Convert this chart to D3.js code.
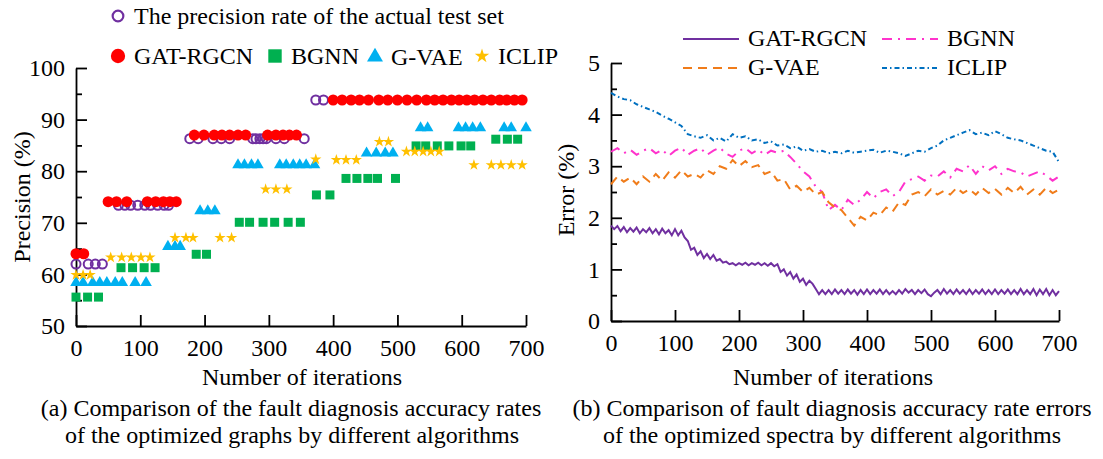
<!DOCTYPE html>
<html>
<head>
<meta charset="utf-8">
<script src="https://cdn.jsdelivr.net/npm/d3@7"></script>
<style>
  body { margin: 0; background: #fff; }
</style>
</head>
<body>
<svg id="chart" width="1103" height="459"></svg>
<script>
// ---- (a) precision vs iterations ----
const actualIter = [0, 19, 30, 41, 66, 76, 85, 96, 107, 116, 127, 137, 144, 177, 190, 213, 226, 239, 275, 280, 286, 291, 296, 311, 324, 355, 373, 385];
const actualPrec = [62, 62, 62, 62, 73.4, 73.4, 73.4, 73.4, 73.4, 73.4, 73.4, 73.4, 73.4,
  86.3, 86.3, 86.3, 86.3, 86.3, 86.3, 86.3, 86.3, 86.3, 86.3, 86.3, 86.3, 86.3, 93.8, 93.8];

const gatIter = [0, 12, 50, 63, 79, 111, 124, 136, 146, 156, 184, 199, 215, 227, 239, 252, 264, 298, 311, 322, 332, 343,
  400, 414, 428, 441, 455, 471, 485, 500, 515, 530, 545, 558, 571, 584, 596, 608, 620, 633, 646, 659, 670, 682, 694];
const gatPrec = [64, 64, 74.1, 74.1, 74.1, 74.1, 74.1, 74.1, 74.1, 74.1,
  87, 87, 87, 87, 87, 87, 87, 87, 87, 87, 87, 87,
  93.8, 93.8, 93.8, 93.8, 93.8, 93.8, 93.8, 93.8, 93.8, 93.8, 93.8, 93.8, 93.8, 93.8, 93.8, 93.8, 93.8, 93.8, 93.8, 93.8, 93.8, 93.8, 93.8];

const bgnnIter = [0, 18, 35, 70, 88, 106, 123, 187, 203, 254, 270, 291, 309, 330, 349, 374, 395, 420, 437, 454, 469, 497, 529, 544, 562, 580, 599, 614, 653, 671, 687];
const bgnnPrec = [55.6, 55.6, 55.6, 61.3, 61.3, 61.3, 61.3, 63.9, 63.9, 70.1, 70.1, 70.1, 70.1, 70.1, 70.1,
  75.4, 75.4, 78.6, 78.6, 78.6, 78.6, 78.6, 84.9, 84.9, 84.9, 84.9, 84.9, 84.9, 86.2, 86.2, 86.2];

const gvaeIter = [0, 11, 26, 37, 48, 61, 72, 92, 109, 143, 154, 162, 193, 205, 216, 252, 262, 273, 283, 317, 327, 338, 348, 358, 371,
  452, 467, 481, 493, 536, 547, 595, 606, 617, 629, 666, 677, 700];
const gvaePrec = [58.4, 58.4, 58.4, 58.4, 58.4, 58.4, 58.4, 58.4, 58.4, 65.4, 65.4, 65.4, 72.3, 72.3, 72.3,
  81.2, 81.2, 81.2, 81.2, 81.2, 81.2, 81.2, 81.2, 81.2, 81.2, 83.5, 83.5, 83.5, 83.5,
  88.4, 88.4, 88.4, 88.4, 88.4, 88.4, 88.4, 88.4, 88.4];

const iclipIter = [0, 11, 22, 54, 71, 86, 101, 115, 154, 171, 182, 224, 242, 295, 311, 328, 373, 405, 420, 436, 472, 486,
  514, 527, 540, 552, 565, 619, 646, 661, 677, 694];
const iclipPrec = [59.9, 59.9, 59.9, 63.3, 63.3, 63.3, 63.3, 63.3, 67.1, 67.1, 67.1, 67.1, 67.1, 76.5, 76.5, 76.5,
  82.3, 82.2, 82.2, 82.2, 85.7, 85.7, 83.8, 83.8, 83.8, 83.8, 83.8, 81.2, 81.2, 81.2, 81.2, 81.2];

// ---- (b) error vs iterations ----
const iterStep5 = d3.range(0, 701, 5);
const iterStep10 = d3.range(0, 701, 10);

const gatErr = [1.85, 1.78, 1.84, 1.74, 1.82, 1.72, 1.80, 1.73, 1.81, 1.70, 1.78, 1.72, 1.80, 1.70, 1.78, 1.68, 1.79, 1.70, 1.76, 1.66,
  1.78, 1.66, 1.75, 1.62, 1.55, 1.38, 1.42, 1.28, 1.35, 1.22, 1.30, 1.20, 1.28, 1.17, 1.20, 1.13, 1.15, 1.10, 1.12, 1.08,
  1.12, 1.09, 1.13, 1.08, 1.12, 1.09, 1.13, 1.08, 1.12, 1.07, 1.12, 1.06, 1.10, 0.95, 1.00, 0.88, 0.95, 0.82, 0.90, 0.76,
  0.82, 0.70, 0.78, 0.72, 0.62, 0.52, 0.60, 0.52, 0.60, 0.52, 0.61, 0.53, 0.60, 0.52, 0.61, 0.53, 0.60, 0.51, 0.60, 0.52,
  0.61, 0.52, 0.60, 0.53, 0.61, 0.52, 0.60, 0.52, 0.58, 0.52, 0.60, 0.53, 0.62, 0.55, 0.60, 0.52, 0.60, 0.54, 0.61, 0.52,
  0.48, 0.55, 0.60, 0.52, 0.62, 0.53, 0.60, 0.52, 0.61, 0.53, 0.60, 0.52, 0.61, 0.52, 0.60, 0.53, 0.61, 0.52, 0.60, 0.52,
  0.61, 0.52, 0.60, 0.53, 0.61, 0.52, 0.60, 0.52, 0.62, 0.52, 0.60, 0.52, 0.62, 0.50, 0.61, 0.52, 0.62, 0.50, 0.60, 0.50,
  0.58];

const bgnnErr = [3.28, 3.35, 3.25, 3.32, 3.22, 3.30, 3.35, 3.25, 3.32, 3.20, 3.30, 3.36, 3.22, 3.30, 3.35, 3.22, 3.30, 3.36, 3.24, 3.18,
  3.30, 3.35, 3.25, 3.32, 3.22, 3.30, 3.26, 3.30, 3.18, 3.05, 2.90, 2.80, 2.60, 2.50, 2.15, 2.25, 2.15, 2.35, 2.25, 2.35,
  2.50, 2.38, 2.50, 2.55, 2.42, 2.50, 2.70, 2.75, 2.80, 2.72, 2.82, 2.80, 2.90, 2.78, 2.95, 2.90, 3.02, 2.85, 3.00, 2.92,
  3.00, 2.85, 2.95, 2.90, 2.88, 2.80, 2.85, 2.90, 2.82, 2.72, 2.80];

const gvaeErr = [2.65, 2.80, 2.70, 2.78, 2.65, 2.80, 2.70, 2.85, 2.72, 2.88, 2.78, 2.92, 2.80, 2.85, 2.78, 2.92, 2.85, 3.00, 2.95, 3.12,
  3.00, 3.10, 2.98, 3.02, 2.85, 2.90, 2.72, 2.75, 2.55, 2.62, 2.50, 2.58, 2.45, 2.50, 2.30, 2.20, 2.15, 2.00, 1.85, 2.02,
  1.95, 2.10, 2.05, 2.20, 2.12, 2.30, 2.25, 2.45, 2.50, 2.42, 2.55, 2.45, 2.52, 2.45, 2.58, 2.48, 2.55, 2.45, 2.58, 2.48,
  2.56, 2.45, 2.58, 2.48, 2.60, 2.45, 2.55, 2.45, 2.58, 2.48, 2.55];

const iclipErr = [4.42, 4.35, 4.30, 4.28, 4.20, 4.15, 4.10, 4.05, 3.98, 3.92, 3.85, 3.78, 3.62, 3.58, 3.55, 3.60, 3.50, 3.55, 3.48, 3.62,
  3.55, 3.58, 3.50, 3.52, 3.45, 3.48, 3.40, 3.42, 3.35, 3.38, 3.30, 3.33, 3.28, 3.30, 3.25, 3.28, 3.25, 3.30, 3.26, 3.28,
  3.30, 3.32, 3.26, 3.30, 3.28, 3.25, 3.20, 3.25, 3.30, 3.28, 3.35, 3.40, 3.50, 3.55, 3.60, 3.65, 3.70, 3.62, 3.65, 3.60,
  3.68, 3.62, 3.55, 3.52, 3.50, 3.45, 3.40, 3.35, 3.30, 3.28, 3.08];

const iterTicks = [0, 100, 200, 300, 400, 500, 600, 700];
const precMajor = [50, 60, 70, 80, 90, 100];
const precMinor = [55, 65, 75, 85, 95];
const errMajor = [0, 1, 2, 3, 4, 5];
const errMinor = [0.5, 1.5, 2.5, 3.5, 4.5];

const FONT = "'Liberation Serif', 'Times New Roman', serif";
const svg = d3.select("#chart");
svg.append("rect").attr("width", 1103).attr("height", 459).attr("fill", "#fff");

const xL = d3.scaleLinear().domain([0, 700]).range([76, 526]);
const yL = d3.scaleLinear().domain([50, 100]).range([326, 68]);
const xR = d3.scaleLinear().domain([0, 700]).range([611, 1059]);
const yR = d3.scaleLinear().domain([0, 5]).range([321, 63]);

function drawAxes(x, y, yMajor, yMinor) {
  const x0 = x.range()[0], y0 = y.range()[0];
  svg.append("g").attr("class", "ax").attr("transform", `translate(${x0},0)`)
    .call(d3.axisLeft(y).tickValues(yMinor).tickSize(-6).tickSizeOuter(0).tickFormat(""))
    .select(".domain").remove();
  svg.append("g").attr("class", "ax").attr("transform", `translate(0,${y0})`)
    .call(d3.axisBottom(x).tickValues(iterTicks).tickSize(-11).tickSizeOuter(0).tickPadding(13).tickFormat(d3.format("d")));
  svg.append("g").attr("class", "ax").attr("transform", `translate(${x0},0)`)
    .call(d3.axisLeft(y).tickValues(yMajor).tickSize(-11).tickSizeOuter(0).tickPadding(11).tickFormat(d3.format("d")));
}
drawAxes(xL, yL, precMajor, precMinor);
drawAxes(xR, yR, errMajor, errMinor);
svg.selectAll(".ax path, .ax line").attr("stroke", "#000").attr("stroke-width", 1.8);
svg.selectAll(".ax").attr("font-family", null).attr("font-size", null);
svg.selectAll(".ax text").style("font-size", "24px").style("font-family", FONT).attr("fill", "#000");

// axis titles + captions
function label(txt, x, y, rot) {
  svg.append("text")
    .attr("transform", `translate(${x},${y})` + (rot ? " rotate(-90)" : ""))
    .attr("text-anchor", "middle")
    .style("font-family", FONT).style("font-size", "24px")
    .text(txt);
}
label("Precision (%)", 30, 197, true);
label("Error (%)", 574, 190, true);
label("Number of iterations", 302, 385);
label("Number of iterations", 833, 385);
label("(a) Comparison of the fault diagnosis accuracy rates", 291, 416);
label("of the optimized graphs by different algorithms", 292, 443);
label("(b) Comparison of fault diagnosis accuracy rate errors", 832, 416);
label("of the optimized spectra by different algorithms", 832, 443);

// markers
function markers(iters, vals, type, size, fill, stroke) {
  svg.append("g").selectAll("path")
    .data(d3.zip(iters, vals))
    .join("path")
    .attr("transform", d => `translate(${xL(d[0])},${yL(d[1])})`)
    .attr("d", d3.symbol(type, size))
    .attr("fill", fill)
    .attr("stroke", stroke || "none")
    .attr("stroke-width", 2);
}
markers(actualIter, actualPrec, d3.symbolCircle, 64, "none", "#7030A0");
markers(gatIter, gatPrec, d3.symbolCircle, 95, "#FF0000");
markers(bgnnIter, bgnnPrec, d3.symbolSquare, 81, "#00B050");
markers(gvaeIter, gvaePrec, d3.symbolTriangle, 58, "#00B0F0");
markers(iclipIter, iclipPrec, d3.symbolStar, 40, "#FFC000");

// legend (a)
const legA = [
  { t: "The precision rate of the actual test set", sym: d3.symbolCircle, size: 90, fill: "none", stroke: "#7030A0", x: 118, y: 16 },
  { t: "GAT-RGCN", sym: d3.symbolCircle, size: 160, fill: "#FF0000", x: 118, y: 56 },
  { t: "BGNN", sym: d3.symbolSquare, size: 180, fill: "#00B050", x: 275, y: 56 },
  { t: "G-VAE", sym: d3.symbolTriangle, size: 110, fill: "#00B0F0", x: 375, y: 57 },
  { t: "ICLIP", sym: d3.symbolStar, size: 65, fill: "#FFC000", x: 482, y: 56 }
];
legA.forEach(d => {
  svg.append("path").attr("transform", `translate(${d.x},${d.y})`)
    .attr("d", d3.symbol(d.sym, d.size)).attr("fill", d.fill)
    .attr("stroke", d.stroke || "none").attr("stroke-width", 2.2);
  svg.append("text").attr("x", d.x + 16).attr("y", d.y + 8)
    .style("font-family", FONT).style("font-size", "24px").text(d.t);
});

// lines (b)
const lineSeries = [
  { name: "GAT-RGCN", it: iterStep5, v: gatErr, color: "#7030A0", dash: null, lx: 683, ly: 39 },
  { name: "BGNN", it: iterStep10, v: bgnnErr, color: "#FF33CC", dash: "10,6,2,6", lx: 882, ly: 39 },
  { name: "G-VAE", it: iterStep10, v: gvaeErr, color: "#F07C1A", dash: "9,6", lx: 683, ly: 68 },
  { name: "ICLIP", it: iterStep10, v: iclipErr, color: "#0070C0", dash: "5,3,1.5,3", lx: 882, ly: 68 }
];
const line = d3.line().x(d => xR(d[0])).y(d => yR(d[1]));
lineSeries.forEach(s => {
  svg.append("path").datum(d3.zip(s.it, s.v))
    .attr("d", line).attr("fill", "none")
    .attr("stroke", s.color).attr("stroke-width", 2)
    .attr("stroke-dasharray", s.dash);
  svg.append("line").attr("x1", s.lx).attr("x2", s.lx + 56).attr("y1", s.ly).attr("y2", s.ly)
    .attr("stroke", s.color).attr("stroke-width", 2.2).attr("stroke-dasharray", s.dash);
  svg.append("text").attr("x", s.lx + 65).attr("y", s.ly + 7)
    .style("font-family", FONT).style("font-size", "24px").text(s.name);
});
</script>
</body>
</html>
